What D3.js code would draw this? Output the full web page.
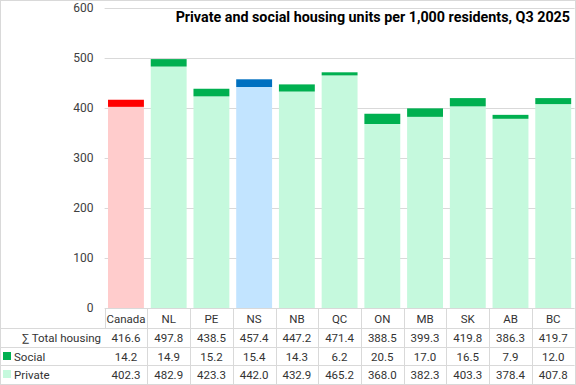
<!DOCTYPE html>
<html>
<head>
<meta charset="utf-8">
<script src="https://cdn.jsdelivr.net/npm/d3@7"></script>
<style>
  body { margin: 0; background: #fff; }
  svg { display: block; font-family: Roboto, "Noto Sans", sans-serif; }
  .tick text { fill: #404040; font-size: 12px; font-family: Roboto, sans-serif; }
  .tbl { fill: #333; font-size: 11.5px; }
</style>
</head>
<body>
<svg width="576" height="385"></svg>
<script>
// data
var regions = ["Canada", "NL", "PE", "NS", "NB", "QC", "ON", "MB", "SK", "AB", "BC"];
var totalHousing = [416.6, 497.8, 438.5, 457.4, 447.2, 471.4, 388.5, 399.3, 419.8, 386.3, 419.7];
var social = [14.2, 14.9, 15.2, 15.4, 14.3, 6.2, 20.5, 17.0, 16.5, 7.9, 12.0];
var privateUnits = [402.3, 482.9, 423.3, 442.0, 432.9, 465.2, 368.0, 382.3, 403.3, 378.4, 407.8];
var yTicks = [0, 100, 200, 300, 400, 500, 600];

// colours: default, Canada, NS
var privColor = {def: "#c5f9dd", Canada: "#ffcccc", NS: "#c2e4ff"};
var socColor = {def: "#00b050", Canada: "#ff0000", NS: "#0070c0"};

var W = 576, H = 385,
    plotLeft = 104.6, plotRight = 574.6,
    plotTop = 8, plotBottom = 308,
    rowLines = [308, 328, 347, 365, 384];

var svg = d3.select("svg");

var x = d3.scaleBand().domain(regions).range([plotLeft, plotRight]).paddingInner(0.16).paddingOuter(0.08);
var xCol = d3.scaleBand().domain(regions).range([plotLeft, plotRight]);
var y = d3.scaleLinear().domain([0, 600]).range([plotBottom, plotTop]);

// outer border
svg.append("rect")
    .attr("x", 0.5).attr("y", 0.5)
    .attr("width", W - 1).attr("height", H - 1)
    .attr("fill", "none").attr("stroke", "#d9d9d9");

// gridlines
svg.append("g").selectAll("line")
    .data(yTicks.slice(1))
    .enter().append("line")
      .attr("x1", plotLeft).attr("x2", plotRight)
      .attr("y1", function(d){ return Math.round(y(d)) + 0.5; })
      .attr("y2", function(d){ return Math.round(y(d)) + 0.5; })
      .attr("stroke", "#d9d9d9");

// y axis labels
var yAxis = svg.append("g")
    .attr("transform", "translate(" + [plotLeft - 11, 0] + ")")
    .call(d3.axisLeft(y).tickValues(yTicks).tickSize(0).tickPadding(0));
yAxis.select(".domain").remove();

// stacked bars
var bars = svg.append("g").selectAll("g")
    .data(regions)
    .enter().append("g");

bars.append("rect")
    .attr("x", function(d){ return x(d); })
    .attr("width", x.bandwidth())
    .attr("y", function(d, i){ return y(privateUnits[i]); })
    .attr("height", function(d, i){ return y(0) - y(privateUnits[i]); })
    .attr("fill", function(d){ return privColor[d] || privColor.def; });

bars.append("rect")
    .attr("x", function(d){ return x(d); })
    .attr("width", x.bandwidth())
    .attr("y", function(d, i){ return y(privateUnits[i] + social[i]); })
    .attr("height", function(d, i){ return y(privateUnits[i]) - y(privateUnits[i] + social[i]); })
    .attr("fill", function(d){ return socColor[d] || socColor.def; });

// data table lines
var table = svg.append("g");
table.append("line")
    .attr("x1", plotLeft).attr("x2", plotRight)
    .attr("y1", rowLines[0] + 0.5).attr("y2", rowLines[0] + 0.5)
    .attr("stroke", "#d9d9d9");
table.selectAll(".hline")
    .data(rowLines.slice(1, 4))
    .enter().append("line")
      .attr("x1", 1).attr("x2", plotRight)
      .attr("y1", function(d){ return d + 0.5; })
      .attr("y2", function(d){ return d + 0.5; })
      .attr("stroke", "#d9d9d9");
var vx = regions.map(function(d){ return xCol(d); }).concat([plotRight]);
table.selectAll(".vline")
    .data(vx)
    .enter().append("line")
      .attr("x1", function(d){ return Math.round(d) + 0.5; })
      .attr("x2", function(d){ return Math.round(d) + 0.5; })
      .attr("y1", plotBottom)
      .attr("y2", function(d, i){ return i === 0 ? rowLines[1] : H - 1; })
      .attr("stroke", "#d9d9d9");

// category row
table.selectAll(".cat")
    .data(regions)
    .enter().append("text")
      .attr("class", "tbl")
      .attr("x", function(d){ return xCol(d) + xCol.bandwidth() / 2; })
      .attr("y", 323)
      .attr("text-anchor", "middle")
      .text(function(d){ return d; });

var rows = [
  {label: "\u2211 Total housing", values: totalHousing, y: 342, swatch: null},
  {label: "Social", values: social, y: 361, swatch: socColor.def},
  {label: "Private", values: privateUnits, y: 379, swatch: privColor.def}
];

rows.forEach(function(r){
  if (r.swatch) {
    table.append("rect")
        .attr("x", 3).attr("y", r.y - 9)
        .attr("width", 8).attr("height", 8)
        .attr("fill", r.swatch);
    table.append("text")
        .attr("class", "tbl")
        .attr("x", 14).attr("y", r.y)
        .text(r.label);
  } else {
    table.append("text")
        .attr("class", "tbl")
        .attr("x", 101).attr("y", r.y)
        .attr("text-anchor", "end")
        .text(r.label);
  }
  table.selectAll(null)
      .data(r.values)
      .enter().append("text")
        .attr("class", "tbl")
        .attr("x", function(d, i){ return xCol(regions[i]) + xCol.bandwidth() / 2; })
        .attr("y", r.y)
        .attr("text-anchor", "middle")
        .text(function(d){ return d.toFixed(1); });
});

// title
svg.append("text")
    .attr("x", 570).attr("y", 22)
    .attr("text-anchor", "end")
    .style("font-family", "Roboto, sans-serif")
    .style("font-weight", "bold")
    .style("font-size", "14.3px")
    .attr("fill", "#000")
    .text("Private and social housing units per 1,000 residents, Q3 2025");
</script>
</body>
</html>
